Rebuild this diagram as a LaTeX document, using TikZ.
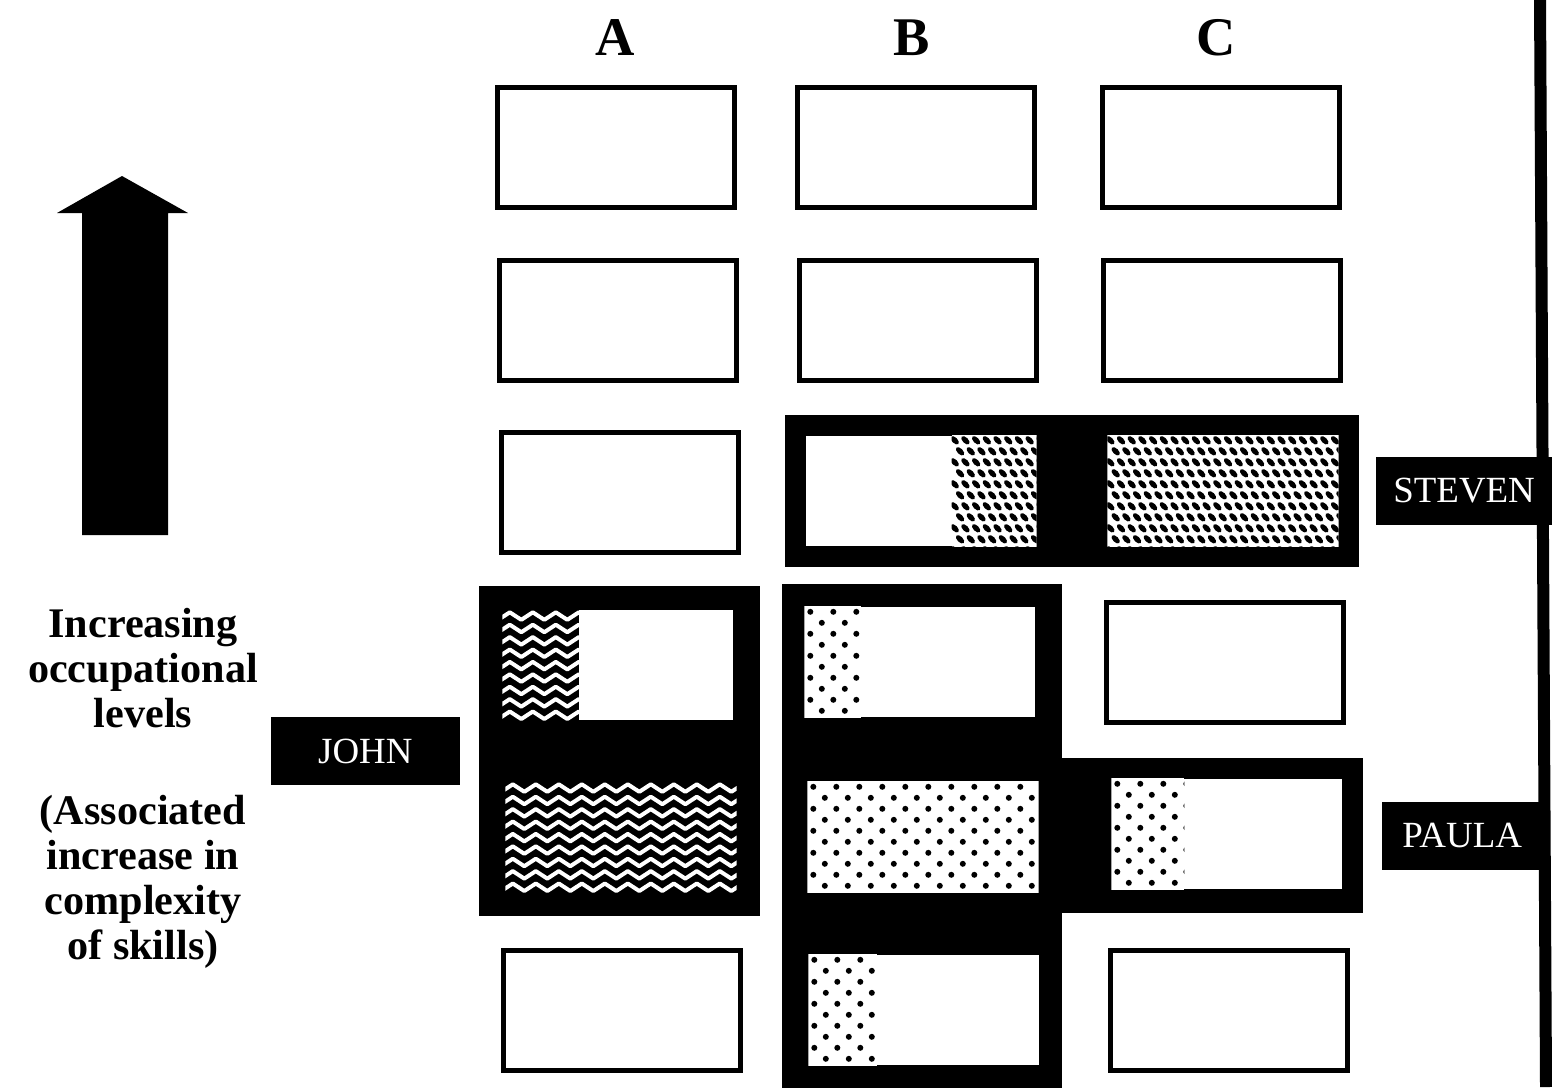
\documentclass[tikz,border=0pt]{standalone}
\usepackage{fontspec}
\setmainfont{Liberation Serif}
\usetikzlibrary{positioning,fit,backgrounds}

% fillings for the part of a level that a person holds
\newcommand{\SpotPatch}[2]{%
  \begin{scope}
    \coordinate (pnw) at (#1);
    \clip (pnw) rectangle (#2);
    \fill[white] (pnw) rectangle (#2);
    \foreach \r in {0,...,10}
      \foreach \c in {0,...,10}
        \fill ([xshift={\c*2.3mm+mod(\r,2)*1.15mm+0.6mm},yshift={-\r*1.1mm-0.55mm}]pnw) circle[radius=0.3mm];
  \end{scope}}
\newcommand{\WavePatch}[2]{%
  \begin{scope}
    \coordinate (pnw) at (#1);
    \clip (pnw) rectangle (#2);
    \fill (pnw) rectangle (#2);
    \foreach \r in {0,...,8}
      \draw[white,line width=0.4mm,line join=round]
        ([xshift=-0.4mm,yshift={-\r*1.24mm-1.05mm}]pnw)
        \foreach \c in {0,...,10} { -- ++(1.15mm,0.75mm) -- ++(1.15mm,-0.75mm) };
  \end{scope}}
\newcommand{\StitchPatch}[2]{%
  \begin{scope}
    \coordinate (pnw) at (#1);
    \clip (pnw) rectangle (#2);
    \fill[white] (pnw) rectangle (#2);
    \foreach \r in {0,...,10}
      \foreach \c in {0,...,22}
        \fill[shift={([xshift={\c*1.07mm+mod(\r,2)*0.535mm+0.3mm},yshift={-\r*1.1mm-0.5mm}]pnw)},rotate=-45]
          (0,0) ellipse (0.52mm and 0.28mm);
  \end{scope}}

\begin{document}
\begin{tikzpicture}[x=0.1mm,y=-0.1mm,
    cell/.style={draw=black,line width=0.5mm,fill=white,inner sep=0pt,
                 minimum width=23.7mm,minimum height=12mm},
    slot/.style={fill=white,inner sep=0pt,minimum width=23mm,minimum height=11mm},
    band/.style={fill=black,inner sep=2.2mm},
    tag/.style={fill=black,text=white,inner sep=0pt,minimum height=6.8mm,
                font=\fontsize{10.5}{12}\selectfont},
    colhead/.style={font=\fontsize{15.5}{17}\selectfont\bfseries},
    note/.style={font=\fontsize{12}{12.8}\selectfont\bfseries,align=center},
  ]
    \useasboundingbox (0,0) rectangle (1552,1087);

    % column heads
    \node[colhead] (hA) at (615,38) {A};
    \node[colhead] (hB) at (912,38) {B};
    \node[colhead] (hC) at (1216,38) {C};

    % plain levels
    \node[cell] (a1) at (616,147) {};
    \node[cell] (b1) at (916,147) {};
    \node[cell] (c1) at (1221,147) {};
    \node[cell] (a2) at (618,320) {};
    \node[cell] (b2) at (918,320) {};
    \node[cell] (c2) at (1222,320) {};
    \node[cell] (a3) at (620,492) {};
    \node[cell] (c4) at (1225,662) {};
    \node[cell] (a6) at (622,1010) {};
    \node[cell] (c6) at (1229,1010) {};

    % levels held by someone
    \node[slot] (a4) at (618,665) {};
    \node[slot] (a5) at (621,837) {};
    \node[slot] (b3) at (921,491) {};
    \node[slot] (c3) at (1223,491) {};
    \node[slot] (b4) at (920,662) {};
    \node[slot] (b5) at (923,837) {};
    \node[slot] (b6) at (924,1010) {};
    \node[slot] (c5) at (1227,834) {};

    \WavePatch{a4.north west}{[xshift=7.7mm]a4.south west}
    \WavePatch{a5.north west}{a5.south east}
    \StitchPatch{[xshift=-8.5mm]b3.north east}{b3.south east}
    \StitchPatch{c3.north west}{c3.south east}
    \SpotPatch{b4.north west}{[xshift=5.7mm]b4.south west}
    \SpotPatch{b5.north west}{b5.south east}
    \SpotPatch{b6.north west}{[xshift=6.9mm]b6.south west}
    \SpotPatch{c5.north west}{[xshift=7.3mm]c5.south west}

    \begin{scope}[on background layer]
      \node[band,fit=(a4)(a5),inner sep=2.3mm] (jband) {};
      \node[band,fit=(b4)(b5)(b6)] (bband) {};
      \node[band,fit=(b5)(c5),inner sep=2mm] (pband) {};
      \node[band,fit=(b3)(c3),inner sep=2mm] (sband) {};
    \end{scope}

    \draw[line width=1.2mm] (1540,0) -- (1546,1087);

    \node[tag,minimum width=18.9mm,left=1.8mm of jband] (john) {JOHN};
    \node[tag,minimum width=17.6mm,right=1.6mm of sband] (steven) {STEVEN};
    \node[tag,minimum width=16mm,right=1.8mm of pband] (paula) {PAULA};

    % arrow and its caption
    \fill (82,535) -- (82,213) -- (57,213) -- (122,176) -- (188,213) -- (168,213) -- (168,535) -- cycle;
    \node[note] (rise) at (143,668) {Increasing\\occupational\\levels};
    \node[note] (assoc) at (143,882) {(Associated\\increase in\\complexity\\of skills)};
  \end{tikzpicture}
\end{document}
